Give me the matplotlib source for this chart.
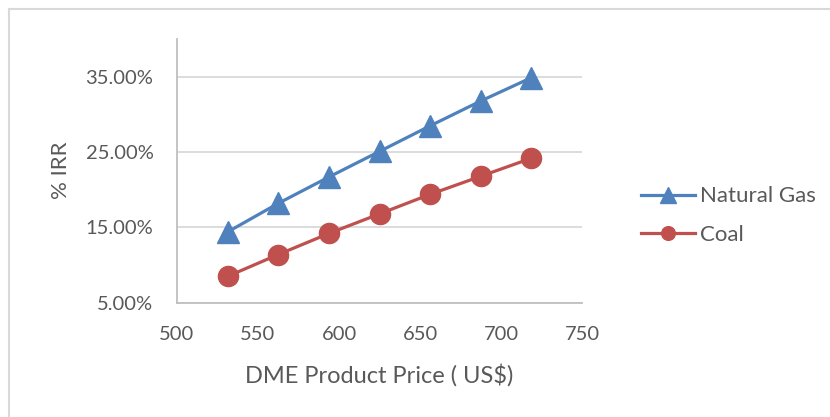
#!/usr/bin/env python3

import matplotlib
matplotlib.use('Agg')
import matplotlib.pyplot as plt
from matplotlib.lines import Line2D
from matplotlib.ticker import FuncFormatter

plt.rcParams['font.family'] = ['Lato', 'DejaVu Sans']

price = [531.25, 562.5, 593.75, 625, 656.25, 687.5, 718.75]
natural_gas = [14.4, 18.2, 21.7, 25.1, 28.5, 31.8, 34.9]
coal = [8.5, 11.4, 14.2, 16.8, 19.4, 21.8, 24.2]

x_ticks = [500, 550, 600, 650, 700, 750]
y_ticks = [5, 15, 25, 35]

blue = '#4F81BD'
red = '#C0504D'
text_col = '#595959'

fig = plt.figure(figsize=(8.3, 4.17), dpi=100)
ax = fig.add_axes([177 / 830, 1 - 302.7 / 417, 405 / 830, 263.4 / 417])

ax.plot(price, natural_gas, color=blue, lw=2.3, marker='^', ms=16,
        label='Natural Gas', zorder=3)
ax.plot(price, coal, color=red, lw=2.3, marker='o', ms=14.5,
        label='Coal', zorder=3)

ax.set_xlim(500, 750)
ax.set_ylim(5, 40)
ax.set_xticks(x_ticks)
ax.set_yticks(y_ticks)
ax.yaxis.set_major_formatter(FuncFormatter(lambda v, p: f'{v:.2f}%'))
ax.grid(axis='y', color='#D9D9D9', lw=1.3)
ax.set_axisbelow(True)
ax.tick_params(length=0, labelsize=14.5, colors=text_col)
ax.tick_params(axis='x', pad=17)
ax.tick_params(axis='y', pad=17)
for s in ['top', 'right']:
    ax.spines[s].set_visible(False)
for s in ['left', 'bottom']:
    ax.spines[s].set_color('#BFBFBF')
    ax.spines[s].set_linewidth(1.3)

ax.set_xlabel('DME Product Price ( US$)', fontsize=17, color=text_col)
ax.set_ylabel('% IRR', fontsize=16, color=text_col)
ax.xaxis.set_label_coords((379 - 177) / 405, -(364 - 302.7) / 263.4)
ax.yaxis.set_label_coords((71 - 177) / 405, 1 - (170 - 39.3) / 263.4)

leg = fig.legend(loc='center left', bbox_to_anchor=(641 / 830, 1 - 215.5 / 417),
                 frameon=False, fontsize=16, handlelength=2.43,
                 handletextpad=0.22, labelspacing=0.83, markerscale=0.68,
                 borderpad=0, borderaxespad=0, labelcolor=text_col)

# outer chart border (top and left edges only visible)
fig.add_artist(Line2D([8.5 / 830, 1], [1 - 8.5 / 417] * 2, color='#D9D9D9', lw=1.5))
fig.add_artist(Line2D([8.5 / 830] * 2, [0, 1 - 8.5 / 417], color='#D9D9D9', lw=1.5))

fig.savefig('out.png', dpi=100)
